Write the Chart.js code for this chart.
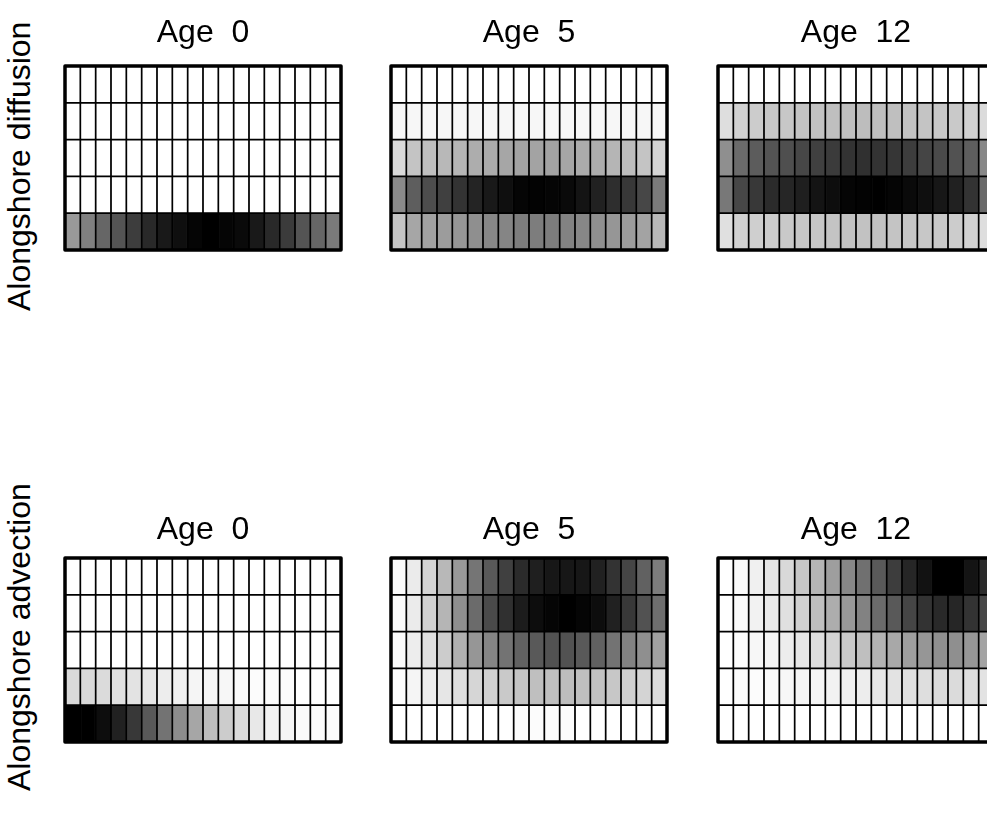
<!DOCTYPE html>
<html>
<head>
<meta charset="utf-8">
<script src="https://cdn.jsdelivr.net/npm/chart.js@4.4.0/dist/chart.umd.min.js"></script>
<style>
html, body { margin: 0; padding: 0; background: #fff; overflow: hidden; width: 987px; height: 817px; }
canvas.panel { position: absolute; }
.rowlabel {
    position: absolute;
    font: 32px "Liberation Sans", Arial, sans-serif;
    line-height: 36px;
    white-space: nowrap;
    transform-origin: 0 0;
    transform: rotate(-90deg);
    color: #000;
}
</style>
</head>
<body>
<div class="rowlabel" id="labDiff" style="left:1px; top:311px;">Alongshore diffusion</div>
<div class="rowlabel" id="labAdv" style="left:1px; top:791px;">Alongshore advection</div>

<canvas class="panel" id="p1" width="288" height="256" style="left:59px; top:0px;"></canvas>
<canvas class="panel" id="p2" width="288" height="256" style="left:385px; top:0px;"></canvas>
<canvas class="panel" id="p3" width="288" height="256" style="left:712px; top:0px;"></canvas>
<canvas class="panel" id="p4" width="288" height="256" style="left:59px; top:492px;"></canvas>
<canvas class="panel" id="p5" width="288" height="256" style="left:385px; top:492px;"></canvas>
<canvas class="panel" id="p6" width="288" height="256" style="left:712px; top:492px;"></canvas>

<script>
// alongshore cells (columns) and age titles
const cells = ['1','2','3','4','5','6','7','8','9','10','11','12','13','14','15','16','17','18'];
const ageTitles = ['Age  0', 'Age  5', 'Age  12'];

// relative density per cell, rows listed top to bottom (0 = white, 1 = black)
const diffAge0 = [
    [0,0,0,0,0,0,0,0,0,0,0,0,0,0,0,0,0,0],
    [0,0,0,0,0,0,0,0,0,0,0,0,0,0,0,0,0,0],
    [0,0,0,0,0,0,0,0,0,0,0,0,0,0,0,0,0,0],
    [0,0,0,0,0,0,0,0,0,0,0,0,0,0,0,0,0,0],
    [0.40,0.50,0.60,0.67,0.76,0.84,0.90,0.94,0.98,1.00,0.98,0.96,0.90,0.84,0.77,0.67,0.60,0.52]
];
const diffAge5 = [
    [0,0,0,0,0,0,0,0,0,0,0,0,0,0,0,0,0,0],
    [0.03,0.03,0.03,0.03,0.03,0.03,0.03,0.03,0.03,0.03,0.03,0.03,0.03,0.03,0.03,0.03,0.03,0.03],
    [0.15,0.23,0.25,0.28,0.29,0.32,0.33,0.35,0.36,0.36,0.36,0.35,0.33,0.32,0.29,0.26,0.23,0.17],
    [0.46,0.63,0.70,0.75,0.80,0.86,0.90,0.94,0.98,0.99,0.98,0.96,0.92,0.87,0.82,0.78,0.72,0.52],
    [0.23,0.35,0.37,0.39,0.41,0.44,0.47,0.48,0.51,0.51,0.51,0.49,0.47,0.44,0.41,0.39,0.36,0.28]
];
const diffAge12 = [
    [0,0,0,0,0,0,0,0,0,0,0,0,0,0,0,0,0,0],
    [0.13,0.18,0.20,0.22,0.22,0.23,0.24,0.25,0.25,0.26,0.25,0.25,0.24,0.23,0.22,0.21,0.18,0.14],
    [0.44,0.58,0.64,0.67,0.69,0.72,0.75,0.77,0.80,0.81,0.80,0.79,0.76,0.73,0.71,0.68,0.63,0.47],
    [0.53,0.72,0.78,0.83,0.85,0.88,0.92,0.95,0.98,0.99,1.00,0.98,0.96,0.94,0.91,0.87,0.80,0.59],
    [0.12,0.18,0.19,0.20,0.21,0.22,0.22,0.23,0.24,0.24,0.24,0.23,0.22,0.22,0.21,0.20,0.18,0.13]
];
const advAge0 = [
    [0,0,0,0,0,0,0,0,0,0,0,0,0,0,0,0,0,0],
    [0,0,0,0,0,0,0,0,0,0,0,0,0,0,0,0,0,0],
    [0,0,0,0,0,0,0,0,0,0,0,0,0,0,0,0,0,0],
    [0.15,0.15,0.14,0.12,0.11,0.10,0.07,0.06,0.04,0.04,0.03,0.02,0.01,0.01,0.01,0,0,0],
    [1.00,1.00,0.95,0.87,0.78,0.65,0.55,0.45,0.35,0.26,0.20,0.14,0.09,0.05,0.04,0.02,0.01,0.01]
];
const advAge5 = [
    [0.02,0.08,0.17,0.28,0.40,0.54,0.65,0.75,0.83,0.88,0.91,0.91,0.91,0.87,0.80,0.73,0.62,0.51],
    [0.02,0.08,0.18,0.29,0.44,0.58,0.71,0.81,0.89,0.95,0.98,1.00,0.98,0.95,0.87,0.78,0.68,0.57],
    [0.02,0.07,0.12,0.20,0.31,0.41,0.48,0.55,0.62,0.65,0.68,0.68,0.65,0.62,0.55,0.49,0.44,0.37],
    [0.01,0.04,0.07,0.10,0.13,0.16,0.18,0.21,0.23,0.25,0.25,0.26,0.25,0.24,0.22,0.19,0.17,0.14],
    [0,0,0,0,0,0,0,0,0.01,0.01,0.01,0.01,0,0,0,0,0,0]
];
const advAge12 = [
    [0,0.02,0.06,0.10,0.15,0.22,0.29,0.38,0.47,0.56,0.65,0.76,0.85,0.93,1.00,1.00,0.92,0.83],
    [0,0.02,0.05,0.08,0.12,0.18,0.25,0.32,0.40,0.49,0.58,0.65,0.73,0.80,0.84,0.85,0.80,0.72],
    [0,0.01,0.03,0.04,0.07,0.10,0.13,0.17,0.21,0.25,0.30,0.34,0.38,0.41,0.44,0.44,0.41,0.36],
    [0,0.01,0.01,0.02,0.03,0.04,0.04,0.05,0.06,0.07,0.09,0.11,0.12,0.13,0.14,0.14,0.13,0.11],
    [0,0,0,0,0,0,0,0,0,0,0,0,0,0,0,0,0,0]
];

const FONT = '"Liberation Sans", Arial, sans-serif';

function shade(v) {
    const g = Math.round(255 * (1 - v));
    return 'rgb(' + g + ',' + g + ',' + g + ')';
}

// thick outer box round each grid
const framePlugin = {
    id: 'frame',
    afterDatasetsDraw(chart) {
        const a = chart.chartArea;
        const ctx = chart.ctx;
        ctx.save();
        ctx.lineWidth = 3.5;
        ctx.lineJoin = 'round';
        ctx.strokeStyle = '#000';
        ctx.strokeRect(a.left, a.top, a.right - a.left, a.bottom - a.top);
        ctx.restore();
    }
};

function makePanel(id, rows, title, titlePad) {
    // stacked bars: bottom row first, each cell one unit high
    const datasets = rows.slice().reverse().map(row => ({
        data: row.map(() => 1),
        backgroundColor: row.map(shade),
        borderColor: '#000',
        borderWidth: 1.2,
        borderSkipped: false,
        barPercentage: 1,
        categoryPercentage: 1
    }));

    return new Chart(document.getElementById(id), {
        type: 'bar',
        data: { labels: cells, datasets: datasets },
        options: {
            responsive: false,
            animation: false,
            devicePixelRatio: 1,
            layout: { padding: { left: 6, right: 6, top: 0, bottom: 6 } },
            plugins: {
                legend: { display: false },
                tooltip: { enabled: false },
                title: {
                    display: true,
                    text: title,
                    color: '#000',
                    font: { family: FONT, size: 32, weight: 'normal' },
                    padding: titlePad
                }
            },
            scales: {
                x: { stacked: true, display: false },
                y: { stacked: true, display: false, min: 0, max: rows.length }
            }
        },
        plugins: [framePlugin]
    });
}

const topPad = { top: 13.8, bottom: 13.8 };
const lowPad = { top: 18.8, bottom: 8.8 };

makePanel('p1', diffAge0, ageTitles[0], topPad);
makePanel('p2', diffAge5, ageTitles[1], topPad);
makePanel('p3', diffAge12, ageTitles[2], topPad);
makePanel('p4', advAge0, ageTitles[0], lowPad);
makePanel('p5', advAge5, ageTitles[1], lowPad);
makePanel('p6', advAge12, ageTitles[2], lowPad);
</script>
</body>
</html>
